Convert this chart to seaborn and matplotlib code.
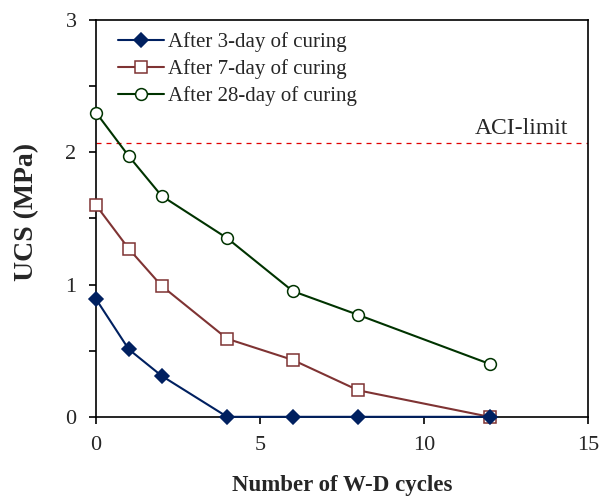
import numpy as np
import pandas as pd
import matplotlib
matplotlib.use("Agg")
import matplotlib.pyplot as plt
import seaborn as sns
from matplotlib.ticker import MultipleLocator

sns.set_style("ticks")
plt.rcParams["font.family"] = ["Liberation Serif", "DejaVu Serif"]

cycles = [0, 1, 2, 4, 6, 8, 12]
ucs_3day = [0.89, 0.51, 0.31, 0.0, 0.0, 0.0, 0.0]
ucs_7day = [1.60, 1.27, 0.99, 0.59, 0.43, 0.20, 0.0]
ucs_28day = [2.30, 1.97, 1.67, 1.35, 0.95, 0.77, 0.40]
labels = ["After 3-day of curing", "After 7-day of curing", "After 28-day of curing"]
aci_limit = 2.07

df = pd.DataFrame({
    "cycles": cycles * 3,
    "ucs": ucs_3day + ucs_7day + ucs_28day,
    "series": [labels[0]] * 7 + [labels[1]] * 7 + [labels[2]] * 7,
})

colors = ["#002060", "#7F3333", "#003300"]
markers = ["D", "s", "o"]
sizes = [7, 8, 8.5]
zorders = [5, 4, 3]

fig = plt.figure(figsize=(6, 4.98), dpi=100)
ax = fig.add_axes([0.16, 0.163, 0.82, 0.797])

for lab, col, mk, ms, zo in zip(labels, colors, markers, sizes, zorders):
    sub = df[df["series"] == lab]
    face = col if mk == "D" else "white"
    sns.lineplot(
        data=sub, x="cycles", y="ucs", ax=ax,
        color=col, marker=mk, markersize=ms,
        markerfacecolor=face, markeredgecolor=col, markeredgewidth=1.1,
        linewidth=1.5, label=lab, clip_on=False, zorder=zo,
    )

ax.axhline(aci_limit, color="#E00000", linestyle=(0, (4, 4)), linewidth=0.9)
ax.text(14.39, aci_limit + 0.07, "ACI-limit", ha="right", va="baseline", fontsize=17)

ax.set_xlim(0, 15)
ax.set_ylim(0, 3)
ax.xaxis.set_major_locator(MultipleLocator(5))
ax.yaxis.set_major_locator(MultipleLocator(1))
ax.yaxis.set_minor_locator(MultipleLocator(0.5))
ax.tick_params(axis="both", which="both", direction="out", labelsize=16,
               width=1.2, length=5, color="black")
ax.tick_params(axis="x", pad=9)
ax.tick_params(axis="y", pad=9)
for s in ax.spines.values():
    s.set_linewidth(1.2)
    s.set_color("black")

ax.set_xlabel("Number of W-D cycles", fontsize=16.5, fontweight="bold", labelpad=14)
ax.set_ylabel("UCS (MPa)", fontsize=20, fontweight="bold")
ax.yaxis.set_label_coords(-0.116, 0.516)

ax.legend(loc="upper left", bbox_to_anchor=(0.02, 1.0), frameon=False,
          fontsize=15, handlelength=2.2, borderaxespad=0.2,
          labelspacing=0.33, handletextpad=0.2)

fig.savefig("out.png", dpi=100)
